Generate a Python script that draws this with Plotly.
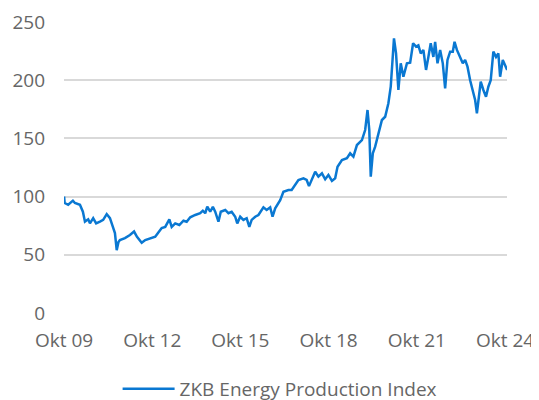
import pandas as pd
import plotly.graph_objects as go

# Decimal years (time) and index values
years = [2009.75, 2009.77, 2009.89, 2010.05, 2010.12, 2010.29, 2010.39, 2010.46, 2010.57, 2010.63,
         2010.74, 2010.84, 2010.97, 2011.08, 2011.20, 2011.31, 2011.41, 2011.48, 2011.54, 2011.60,
         2011.65, 2011.82, 2011.99, 2012.13, 2012.23, 2012.39, 2012.51, 2012.68, 2012.85, 2012.95,
         2013.07, 2013.19, 2013.33, 2013.41, 2013.53, 2013.67, 2013.81, 2013.92, 2014.04, 2014.21,
         2014.38, 2014.47, 2014.55, 2014.62, 2014.72, 2014.81, 2014.89, 2015.00, 2015.08, 2015.23,
         2015.34, 2015.45, 2015.57, 2015.64, 2015.74, 2015.85, 2015.96, 2016.05, 2016.13, 2016.25,
         2016.36, 2016.53, 2016.64, 2016.76, 2016.84, 2016.93, 2017.10, 2017.21, 2017.38, 2017.49,
         2017.61, 2017.72, 2017.89, 2018.00, 2018.08, 2018.18, 2018.29, 2018.40, 2018.52, 2018.63,
         2018.74, 2018.86, 2018.97, 2019.05, 2019.20, 2019.37, 2019.48, 2019.59, 2019.71, 2019.88,
         2019.99, 2020.07, 2020.13, 2020.18, 2020.25, 2020.33, 2020.44, 2020.56, 2020.67, 2020.78,
         2020.86, 2020.97, 2021.04, 2021.12, 2021.20, 2021.29, 2021.41, 2021.52, 2021.62, 2021.72,
         2021.80, 2021.88, 2021.97, 2022.06, 2022.14, 2022.22, 2022.31, 2022.37, 2022.45, 2022.54,
         2022.63, 2022.71, 2022.79, 2022.88, 2022.97, 2023.03, 2023.11, 2023.20, 2023.31, 2023.39,
         2023.47, 2023.56, 2023.65, 2023.73, 2023.79, 2023.84, 2023.92, 2024.01, 2024.10, 2024.18,
         2024.26, 2024.35, 2024.44, 2024.52, 2024.58, 2024.67, 2024.75, 2024.82]

values = [100, 94.5, 93, 96.5, 94.5, 93, 87, 78.5, 80.5, 77,
          81.5, 77, 78.5, 80, 85, 81.5, 74, 68.7, 54, 61,
          62.7, 64.4, 67, 70, 65.5, 60.4, 62.7, 64, 65.5, 69,
          73, 74, 80.5, 74, 77, 75.6, 79.3, 78.4, 82.2, 84.2,
          85.7, 87.9, 85.7, 91.3, 87, 91.3, 87, 78.4, 87, 88.5,
          85.7, 87, 82.7, 77, 82.7, 80, 81.4, 74, 80, 82.7,
          84.2, 90.8, 88.5, 90.8, 82.7, 89.9, 97, 104.2, 105.7, 105.7,
          110, 114.3, 115.7, 114.3, 109, 114.3, 121.4, 117.2, 120, 114.9,
          118.6, 113.5, 115.7, 125.7, 131.4, 132.9, 137.2, 134.3, 144.3, 148.6,
          157.2, 174.4, 157.2, 117.1, 137.2, 142.9, 154.4, 165.8, 168.6, 180.2,
          194.4, 236, 223, 191.6, 214.5, 203, 214.5, 215, 231.7, 228.8,
          230, 223, 226, 208.8, 220, 231.7, 220, 233, 214.5, 226,
          214.5, 193, 217.4, 224.5, 224.5, 233, 226, 220, 214.5, 217.4,
          211.6, 200, 191.6, 183, 171.6, 183, 198.7, 191.6, 185.8, 194.4,
          200, 224.5, 220, 223, 203, 217.4, 213, 208.8]

tick_dates = ["2009-10-01", "2012-10-01", "2015-10-01", "2018-10-01", "2021-10-01", "2024-10-01"]
tick_labels = ["Okt 09", "Okt 12", "Okt 15", "Okt 18", "Okt 21", "Okt 24"]
y_ticks = [0, 50, 100, 150, 200, 250]
series_name = "ZKB Energy Production Index"

base = pd.Timestamp("2009-01-01")
dates = [base + pd.Timedelta(days=(y - 2009) * 365.25) for y in years]

fig = go.Figure()
fig.add_trace(go.Scatter(
    x=dates, y=values, mode="lines", name=series_name,
    line=dict(color="#0a78d2", width=2.5),
))

font_color = "#666666"
fig.update_layout(
    width=531, height=392,
    margin=dict(l=56, r=32, t=14, b=87, autoexpand=False),
    paper_bgcolor="white", plot_bgcolor="white",
    font=dict(family="Open Sans", size=19, color=font_color),
    showlegend=True,
    legend=dict(orientation="h", x=0.121, xanchor="left", y=-0.261, yanchor="middle",
                font=dict(size=19, color=font_color), itemwidth=52),
)
fig.update_xaxes(
    type="date",
    range=["2009-10-01", "2024-10-25"],
    tickvals=tick_dates, ticktext=tick_labels,
    showgrid=False, showline=False, zeroline=False,
    ticks="", ticklabelstandoff=14, automargin=False,
)
fig.update_yaxes(
    range=[0, 250], tickvals=y_ticks,
    showgrid=True, gridcolor="#d9d9d9", gridwidth=1.5,
    zeroline=False, showline=False, ticks="", ticklabelstandoff=18, automargin=False,
)
fig.write_html("out.html")
